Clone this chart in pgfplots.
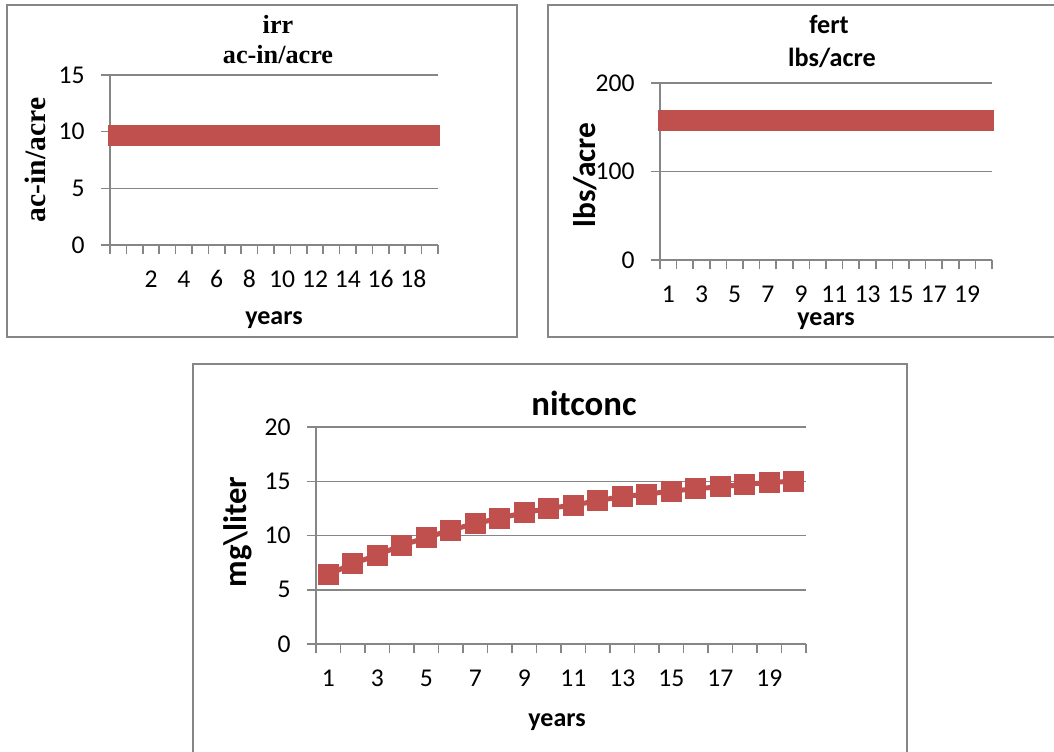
\documentclass[border=0pt]{standalone}
\usepackage{pgfplots}
\pgfplotsset{compat=1.18}
\usepackage{fontspec}
\setmainfont{Carlito}
\newfontfamily\tnr{Liberation Serif}
\definecolor{axgray}{HTML}{868686}
\definecolor{exred}{HTML}{C0504D}

\pgfplotsset{
  exstyle/.style={
    scale only axis, anchor=south west, clip=false,
    axis x line*=bottom, axis y line*=left,
    axis line style={-, draw=axgray, line width=0.75pt},
    ymajorgrids, major grid style={draw=axgray, line width=0.75pt},
    major tick length=0pt, minor tick length=4.5pt, tick align=outside,
    tick style={draw=axgray, line width=0.75pt},
    /pgf/number format/assume math mode=true,
    ticklabel style={font=\fontsize{12.8}{14}\selectfont},
    yticklabel style={anchor=east, inner sep=0pt, xshift=-12.5pt},
    xticklabel style={anchor=base, inner sep=0pt, yshift=-21pt},
  },
  exline/.style={draw=exred, line width=2.5pt, mark=square*, mark size=5pt,
      mark options={fill=exred, draw=exred, line width=0.4pt, solid, rounded corners=0.8pt}},
}

\begin{document}
\begin{tikzpicture}[x=0.5pt, y=0.5pt]
\path[use as bounding box] (0,0) rectangle (1054,751);

% frames
\draw[axgray, line width=0.8pt] (7,746) rectangle (517,414);
\draw[axgray, line width=0.8pt] (548,746) rectangle (1070,414);
\draw[axgray, line width=0.8pt] (193,387) rectangle (907,-20);

% ---------- top-left: irr ----------
\begin{axis}[exstyle, at={(55pt,253pt)}, width=164pt, height=85pt,
  xmin=-0.5, xmax=19.5, ymin=0, ymax=15,
  xtick={2,4,...,18}, minor xtick={-0.5,0.5,...,19.5},
  ytick={0,5,10,15}, minor ytick={0,5,10,15}]
\addplot[exline] coordinates {(0,9.7) (1,9.7) (2,9.7) (3,9.7) (4,9.7) (5,9.7) (6,9.7) (7,9.7) (8,9.7) (9,9.7)
 (10,9.7) (11,9.7) (12,9.7) (13,9.7) (14,9.7) (15,9.7) (16,9.7) (17,9.7) (18,9.7) (19,9.7)};
\end{axis}
\node[anchor=base, font=\tnr\bfseries\fontsize{13.1}{15}\selectfont] at (278,717) {irr};
\node[anchor=base, font=\tnr\bfseries\fontsize{13.1}{15}\selectfont] at (278,687) {ac-in/acre};
\node[anchor=base, rotate=90, font=\tnr\bfseries\fontsize{14.8}{17}\selectfont] at (46,591) {ac-in/acre};
\node[anchor=base, font=\bfseries\fontsize{13}{15}\selectfont] at (274,427) {years};

% ---------- top-right: fert ----------
\begin{axis}[exstyle, at={(330pt,245.5pt)}, width=166pt, height=88.5pt,
  xmin=0.5, xmax=20.5, ymin=0, ymax=200,
  xtick={1,3,...,19}, minor xtick={0.5,1.5,...,20.5},
  ytick={0,100,200}, minor ytick={0,100,200}]
\addplot[exline] coordinates {(1,158) (2,158) (3,158) (4,158) (5,158) (6,158) (7,158) (8,158) (9,158) (10,158)
 (11,158) (12,158) (13,158) (14,158) (15,158) (16,158) (17,158) (18,158) (19,158) (20,158)};
\end{axis}
\node[anchor=base, font=\bfseries\fontsize{13.1}{15}\selectfont] at (829,717) {fert};
\node[anchor=base, font=\bfseries\fontsize{13.1}{15}\selectfont] at (832,684) {lbs/acre};
\node[anchor=base, rotate=90, font=\bfseries\fontsize{15.7}{18}\selectfont] at (595,576) {lbs/acre};
\node[anchor=base, font=\bfseries\fontsize{13}{15}\selectfont] at (826,426) {years};

% ---------- bottom: nitconc ----------
\begin{axis}[exstyle, at={(158pt,53.5pt)}, width=245pt, height=108.5pt,
  xmin=0.5, xmax=20.5, ymin=0, ymax=20,
  xtick={1,3,...,19}, minor xtick={0.5,1.5,...,20.5},
  ytick={0,5,10,15,20}, minor ytick={0,5,10,15,20}]
\addplot[exline] coordinates {(1,6.4) (2,7.4) (3,8.2) (4,9.1) (5,9.8) (6,10.5) (7,11.1) (8,11.6) (9,12.1) (10,12.5)
 (11,12.8) (12,13.2) (13,13.6) (14,13.8) (15,14.1) (16,14.3) (17,14.5) (18,14.7) (19,14.9) (20,15.0)};
\end{axis}
\node[anchor=base, font=\bfseries\fontsize{17.4}{20}\selectfont] at (584,336) {nitconc};
\node[anchor=base, rotate=90, font=\bfseries\fontsize{16.3}{19}\selectfont] at (246,219) {mg\textbackslash liter};
\node[anchor=base, font=\bfseries\fontsize{13}{15}\selectfont] at (557,25) {years};
\end{tikzpicture}
\end{document}
